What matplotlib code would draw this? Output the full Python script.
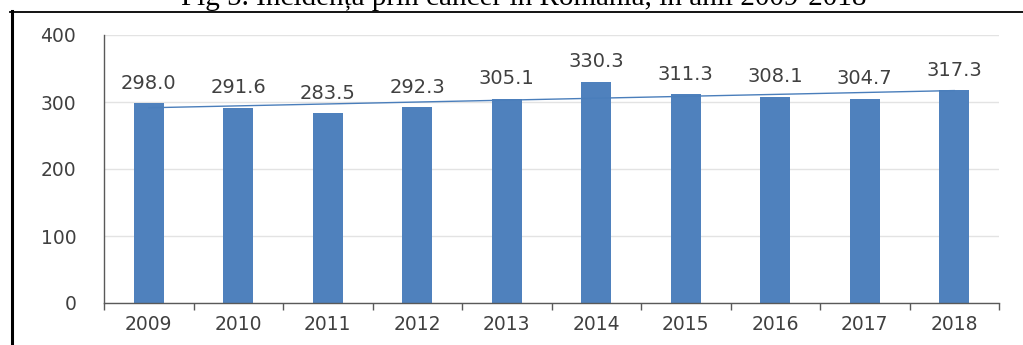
import numpy as np
import matplotlib
matplotlib.use("Agg")
import matplotlib.pyplot as plt
from matplotlib.lines import Line2D

years = ["2009", "2010", "2011", "2012", "2013", "2014", "2015", "2016", "2017", "2018"]
incidence = [298.0, 291.6, 283.5, 292.3, 305.1, 330.3, 311.3, 308.1, 304.7, 317.3]
yticks = [0, 100, 200, 300, 400]
title = "Fig 5. Incidența prin cancer în România, în anii 2009-2018"

bar_color = "#4F81BD"
text_color = "#404040"

fig = plt.figure(figsize=(10.23, 3.45), dpi=100)
W, H = 1023, 345
ax = fig.add_axes([104 / W, 42 / H, 895 / W, 268 / H])

x = np.arange(len(years))
ax.bar(x, incidence, width=0.33, color=bar_color, zorder=2)

# linear trend over the series
slope, icpt = np.polyfit(x, incidence, 1)
ax.plot([x[0], x[-1]], [icpt + slope * x[0], icpt + slope * x[-1]],
        color="#4A7EBB", lw=1.0, zorder=3)

for xi, v in zip(x, incidence):
    ax.annotate(f"{v:.1f}", (xi, v), xytext=(0, 20), textcoords="offset pixels",
                ha="center", va="center", fontsize=14, color=text_color)

ax.set_xlim(-0.5, len(years) - 0.5)
ax.set_ylim(0, 400)
ax.set_yticks(yticks)
ax.set_yticklabels([str(t) for t in yticks], fontsize=13.5, color=text_color)
ax.set_xticks(x)
ax.set_xticklabels(years, fontsize=13.5, color=text_color)
ax.set_xticks(np.arange(-0.5, len(years)), minor=True)
ax.tick_params(axis="x", which="major", length=0, pad=9)
ax.tick_params(axis="x", which="minor", length=5, width=1, color="#595959", direction="out")
ax.tick_params(axis="y", length=0, pad=20)

ax.grid(axis="y", color="#e3e3e3", lw=1, zorder=0)
for s in ["top", "right"]:
    ax.spines[s].set_visible(False)
for s in ["left", "bottom"]:
    ax.spines[s].set_color("#595959")
    ax.spines[s].set_linewidth(1)

# caption above the frame, cut off by the page edge
fig.text(524 / W, 1 - 5 / H, title, ha="center", va="baseline",
         fontsize=21, family="Liberation Serif", color="black")
fig.add_artist(Line2D([10 / W, 1], [1 - 11.5 / H, 1 - 11.5 / H], color="black", lw=1.3))
fig.add_artist(Line2D([11.5 / W, 11.5 / W], [0, 1 - 11 / H], color="black", lw=2.2))

fig.savefig("out.png", dpi=100)
